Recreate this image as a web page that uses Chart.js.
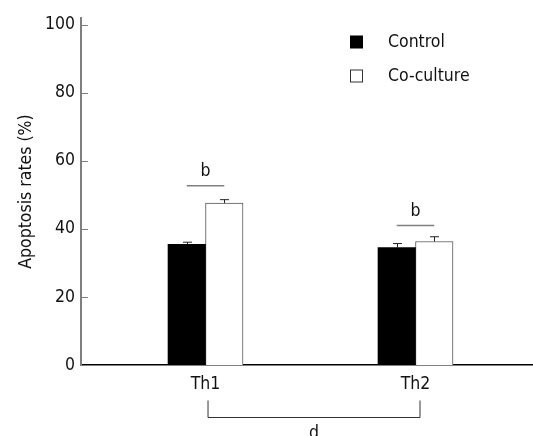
<!DOCTYPE html>
<html>
<head>
<meta charset="utf-8">
<script src="https://cdn.jsdelivr.net/npm/chart.js@4.4.0/dist/chart.umd.min.js"></script>
<style>
  html, body { margin: 0; padding: 0; background: #fff; }
</style>
</head>
<body>
<canvas id="chart" width="533" height="436"></canvas>
<script>
// data
const groups = ["Th1", "Th2"];
const groupPos = [0, 1];
const seriesNames = ["Control", "Co-culture"];
const controlRates = [35.5, 34.5];
const cocultureRates = [47.6, 36.3];
const controlErr = [0.6, 1.2];
const cocultureErr = [1.0, 1.4];
const yTicks = [0, 20, 40, 60, 80, 100];
const sigLabels = ["b", "b"];
const sigLevel = [52.7, 41.0];
const bracketLabel = "d";

const FAMILY = "'DejaVu Sans Condensed', 'DejaVu Sans', sans-serif";
const FONT = { family: FAMILY, size: 17.5 };
const TEXT = "#111";

const errs = [controlErr, cocultureErr];
const vals = [controlRates, cocultureRates];

const extras = {
  id: "extras",
  afterDatasetsDraw(chart) {
    const ctx = chart.ctx;
    const x = chart.scales.x, y = chart.scales.y;
    const area = chart.chartArea;
    ctx.save();

    // inward y ticks
    ctx.strokeStyle = "#7f7f7f";
    ctx.lineWidth = 1;
    yTicks.forEach((v) => {
      const py = Math.round(y.getPixelForValue(v)) + 0.5;
      ctx.beginPath();
      ctx.moveTo(area.left, py);
      ctx.lineTo(area.left + 7, py);
      ctx.stroke();
    });

    // error bars (upper only)
    ctx.strokeStyle = "#222";
    ctx.lineWidth = 1;
    [0, 1].forEach((d) => {
      chart.getDatasetMeta(d).data.forEach((bar, j) => {
        const top = y.getPixelForValue(vals[d][j] + errs[d][j]);
        const bx = Math.round(bar.x) + 0.5;
        ctx.beginPath();
        ctx.moveTo(bx, bar.y);
        ctx.lineTo(bx, top);
        ctx.moveTo(bx - 4.5, top);
        ctx.lineTo(bx + 4.5, top);
        ctx.stroke();
      });
    });

    // significance marks
    const m0 = chart.getDatasetMeta(0).data, m1 = chart.getDatasetMeta(1).data;
    ctx.font = "17.5px " + FAMILY;
    ctx.fillStyle = TEXT;
    ctx.textAlign = "center";
    ctx.textBaseline = "alphabetic";
    sigLevel.forEach((lvl, j) => {
      const py = y.getPixelForValue(lvl);
      ctx.strokeStyle = "#7f7f7f";
      ctx.lineWidth = 1.5;
      ctx.beginPath();
      ctx.moveTo(m0[j].x, py);
      ctx.lineTo(m1[j].x, py);
      ctx.stroke();
      ctx.fillText(sigLabels[j], (m0[j].x + m1[j].x) / 2, py - 10);
    });

    // bracket between groups
    const bl = x.getPixelForValue(groupPos[0]) + 2.5;
    const br = x.getPixelForValue(groupPos[1]) + 4.5;
    ctx.strokeStyle = "#333";
    ctx.lineWidth = 1;
    ctx.beginPath();
    ctx.moveTo(bl, 400.5);
    ctx.lineTo(bl, 417.5);
    ctx.lineTo(br, 417.5);
    ctx.lineTo(br, 400.5);
    ctx.stroke();
    ctx.fillText(bracketLabel, (bl + br) / 2, 438);

    // legend
    const swatch = [{ fill: "#000", stroke: "#000" }, { fill: "#fff", stroke: "#333" }];
    const rowY = [42.5, 76.5];
    ctx.textAlign = "left";
    ctx.textBaseline = "middle";
    seriesNames.forEach((name, i) => {
      ctx.fillStyle = swatch[i].fill;
      ctx.fillRect(350.5, rowY[i] - 6.5, 12, 12);
      ctx.strokeStyle = swatch[i].stroke;
      ctx.lineWidth = 1;
      ctx.strokeRect(350.5, rowY[i] - 6.5, 12, 12);
      ctx.fillStyle = TEXT;
      ctx.fillText(name, 388, rowY[i]);
    });

    ctx.restore();
  },
};

new Chart(document.getElementById("chart"), {
  type: "bar",
  data: {
    datasets: [
      {
        label: seriesNames[0],
        data: groupPos.map((p, i) => ({ x: p, y: controlRates[i] })),
        backgroundColor: "#000",
        borderColor: "#000",
        borderWidth: 0,
        barThickness: 37.5,
      },
      {
        label: seriesNames[1],
        data: groupPos.map((p, i) => ({ x: p, y: cocultureRates[i] })),
        backgroundColor: "#fff",
        borderColor: "#555",
        borderWidth: 1,
        barThickness: 37.5,
      },
    ],
  },
  options: {
    responsive: false,
    animation: false,
    layout: { padding: { top: 18, left: 0, right: 0, bottom: 0 } },
    plugins: { legend: { display: false }, tooltip: { enabled: false } },
    scales: {
      x: {
        type: "linear",
        min: -0.593,
        max: 1.5595,
        offset: false,
        grid: { display: false, drawTicks: false },
        border: { display: true, color: "#000", width: 1.5 },
        ticks: {
          padding: 9,
          font: FONT,
          color: TEXT,
          callback: (v) => groups[groupPos.indexOf(v)] ?? "",
        },
        afterBuildTicks: (s) => { s.ticks = groupPos.map((v) => ({ value: v })); },
        afterFit: (s) => { s.height = 71; },
      },
      y: {
        type: "linear",
        min: 0,
        max: 102,
        grid: { display: false, drawTicks: false },
        border: { display: true, color: "#7f7f7f", width: 2 },
        ticks: { padding: 6, font: FONT, color: TEXT },
        afterBuildTicks: (s) => { s.ticks = yTicks.map((v) => ({ value: v })); },
        title: {
          display: true,
          text: "Apoptosis rates (%)",
          font: FONT,
          color: TEXT,
          padding: { top: 16, bottom: 0 },
        },
        afterFit: (s) => { s.width = 81; },
      },
    },
  },
  plugins: [extras],
});
</script>
</body>
</html>
